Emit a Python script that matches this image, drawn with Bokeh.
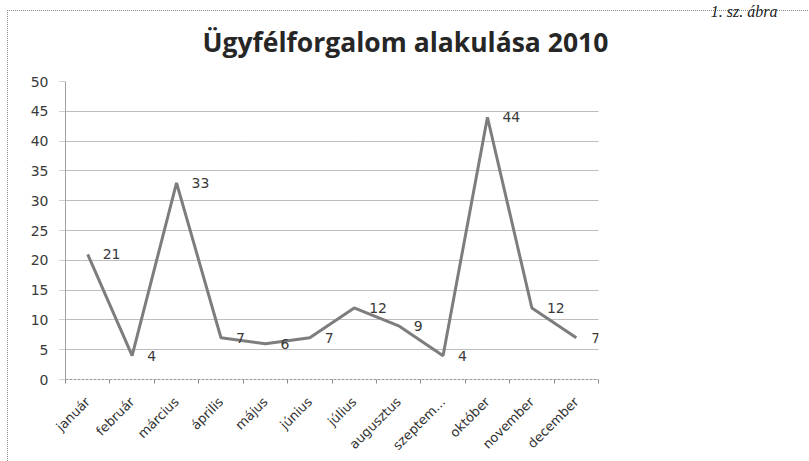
import numpy as np
from bokeh.plotting import figure
from bokeh.models import Range1d, FixedTicker, Title, ColumnDataSource
from bokeh.embed import file_html
from bokeh.resources import INLINE
from bokeh.core.properties import value

# ---- data ----
months = ["január", "február", "március", "április", "május", "június",
          "július", "augusztus", "szeptem...", "október", "november", "december"]
counts = [21, 4, 33, 7, 6, 7, 12, 9, 4, 44, 12, 7]
y_ticks = [0, 5, 10, 15, 20, 25, 30, 35, 40, 45, 50]
title_text = "Ügyfélforgalom alakulása 2010"
corner_text = "1. sz. ábra"

# category centres on a numeric axis (boundaries at integers)
xs = [i + 0.5 for i in range(len(months))]
bounds = list(range(len(months) + 1))

src = ColumnDataSource(dict(x=xs, y=counts, lab=[str(c) for c in counts]))

W, H = 809, 461
p = figure(width=W, height=H, output_backend="svg", toolbar_location=None,
           x_range=Range1d(0, len(months)), y_range=Range1d(0, 50),
           min_border_left=65, min_border_right=211, min_border_top=81,
           min_border_bottom=79, title=None)
p.outline_line_color = None
p.background_fill_color = "white"
p.border_fill_color = None
dot = "repeating-linear-gradient(to right, #8a8a8a 0 1px, transparent 1px 2px)"
dotv = "repeating-linear-gradient(to bottom, #8a8a8a 0 1px, transparent 1px 2px)"
p.styles = {
    "background-color": "white",
    "background-image": f"{dot}, {dotv}",
    "background-size": "802px 1px, 1px 451px",
    "background-position": "7px 10px, 7px 10px",
    "background-repeat": "no-repeat",
}

# title (closest to the frame) and the cropped caption above it
t = Title(text=title_text, align="left", text_font="Open Sans",
          text_font_size="26.5px", text_font_style="bold", text_color="#262626",
          offset=137, standoff=43)
p.add_layout(t, "above")
c = Title(text=corner_text, align="right", text_font="Liberation Serif",
          text_font_size="16px", text_font_style="italic", text_color="#222222",
          offset=-179, standoff=-38)
p.add_layout(c, "above")

# x axis
p.xaxis.ticker = FixedTicker(ticks=xs, minor_ticks=bounds)
p.xaxis.major_label_overrides = {x: m for x, m in zip(xs, months)}
p.xaxis.major_tick_in = 0
p.xaxis.major_tick_out = 0
p.xaxis.minor_tick_in = 0
p.xaxis.minor_tick_out = 4
p.xaxis.minor_tick_line_color = "#8c8c8c"
p.xaxis.axis_line_color = "#9a9a9a"
p.xaxis.axis_line_dash = "3 1"
p.xaxis.major_label_orientation = np.pi / 4
p.xaxis.major_label_text_font = "DejaVu Sans"
p.xaxis.major_label_text_font_size = "13px"
p.xaxis.major_label_text_color = "#333333"
p.xaxis.major_label_standoff = 16

# y axis
p.yaxis.ticker = FixedTicker(ticks=y_ticks)
p.yaxis.axis_line_color = "#a0a0a0"
p.yaxis.major_tick_in = 0
p.yaxis.major_tick_out = 6
p.yaxis.major_tick_line_color = "#a0a0a0"
p.yaxis.major_tick_line_dash = "1 1"
p.yaxis.minor_tick_line_color = None
p.yaxis.major_label_text_font = "DejaVu Sans"
p.yaxis.major_label_text_font_size = "14px"
p.yaxis.major_label_text_color = "#3a3a3a"
p.yaxis.major_label_standoff = 11

# grid
p.xgrid.visible = False
p.ygrid.ticker = FixedTicker(ticks=y_ticks)
p.ygrid.grid_line_color = "#7a7a7a"
p.ygrid.grid_line_dash = "1 1"
p.ygrid.grid_line_width = 1

# series
p.line("x", "y", source=src, line_color="#7d7d7d", line_width=3)
p.text("x", "y", text="lab", source=src, x_offset=15, text_align="left",
       text_baseline="middle", text_font=value("DejaVu Sans"),
       text_font_size="14px", text_color="#3a3a3a")

open("out.html", "w").write(file_html(p, INLINE))
